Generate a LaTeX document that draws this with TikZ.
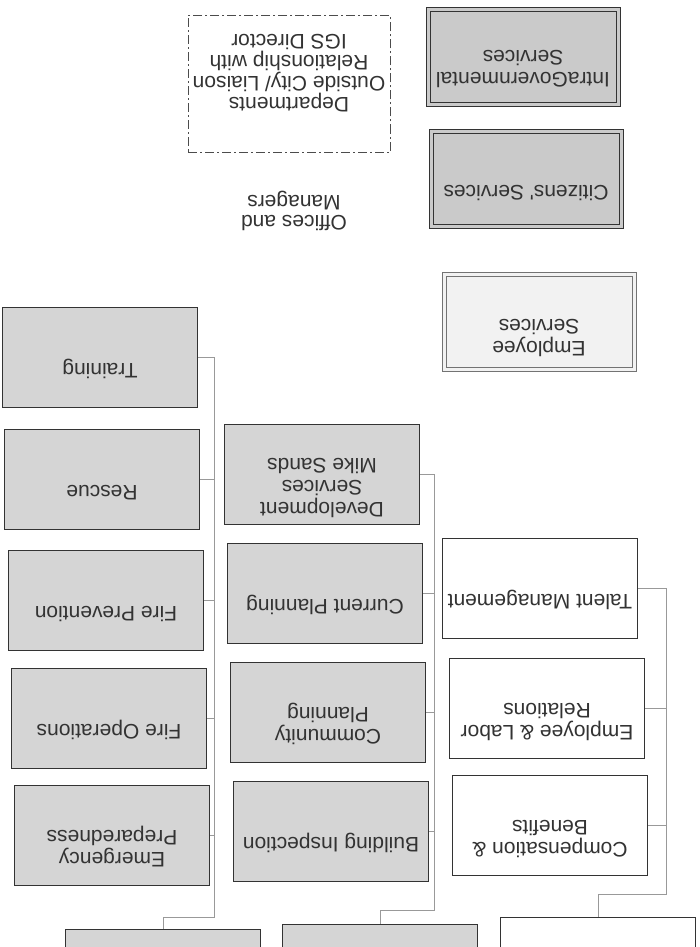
\documentclass[tikz,border=0pt]{standalone}
\usepackage{fontspec}
\usepackage{graphicx}
\newfontfamily\orgfont{Liberation Sans}
\definecolor{unitgray}{HTML}{D5D5D5}
\definecolor{officegray}{HTML}{CACACA}
\definecolor{empfill}{HTML}{F2F2F2}
\definecolor{linkgray}{HTML}{999999}
% upside-down text, lifted by #1 before the turn
\newcommand\flip[2][22pt]{\rotatebox[origin=c]{180}{\begin{tabular}{@{}c@{}}#2\\[#1]\end{tabular}}}
\tikzset{
  unit/.style={draw=black!80, line width=1pt, fill=unitgray, minimum width=195pt,
    minimum height=100pt, inner sep=0pt, text=black!80,
    font=\orgfont\fontsize{21}{22}\selectfont},
  plainunit/.style={unit, fill=white},
  office/.style={unit, fill=officegray, double=officegray, double distance=3pt,
    minimum width=190pt, minimum height=95pt},
  empoffice/.style={office, draw=black!55, fill=empfill, double=empfill},
  liaison/.style={draw=black!70, line width=0.8pt, dash pattern=on 9pt off 3pt on 2pt off 3pt,
    minimum width=202pt, minimum height=137pt, inner sep=0pt, text=black!80,
    font=\orgfont\fontsize{21}{19}\selectfont},
  note/.style={inner sep=0pt, text=black!80, font=\orgfont\fontsize{21}{20}\selectfont},
  link/.style={draw=linkgray, line width=0.6pt}
}
\begin{document}
\begin{tikzpicture}[x=1pt, y=-1pt]
    \useasboundingbox (0,0) rectangle (699,947);
    \clip (0,0) rectangle (699,947);

    % offices column
    \node [office] (igs) at (523,57) {\flip[18pt]{IntraGovernmental\\Services}};
    \node [office] (citizens) at (526,179) {\flip{Citizens' Services}};
    \node [empoffice] (empserv) at (539,322) {\flip[26pt]{Employee\\Services}};
    \node [liaison] (outside) at (289,84) {\flip[0pt]{\rule{0pt}{41pt}Departments\\Outside City/ Liaison\\Relationship with\\IGS Director}};
    \node [note] (offices) at (294,210) {\flip[0pt]{Offices and\\Managers}};

    % fire
    \node [unit] (train) at (100,357) {\flip{Training}};
    \node [unit] (rescue) at (102,479) {\flip{Rescue}};
    \node [unit] (firep) at (106,600) {\flip{Fire Prevention}};
    \node [unit] (fireo) at (109,718) {\flip{Fire Operations}};
    \node [unit] (emerg) at (112,835) {\flip{Emergency\\Preparedness}};
    \node [unit] (fire) at (163,979) {};

    % development
    \node [unit] (devserv) at (322,474) {\flip{Development\\Services\\Mike Sands}};
    \node [unit] (curplan) at (325,593) {\flip{Current Planning}};
    \node [unit] (complan) at (328,712) {\flip{Community\\Planning}};
    \node [unit] (building) at (331,831) {\flip{Building Inspection}};
    \node [unit] (dev) at (380,974) {};

    % human resources
    \node [plainunit] (talent) at (540,588) {\flip{Talent Management}};
    \node [plainunit] (labor) at (547,708) {\flip{Employee \& Labor\\Relations}};
    \node [plainunit] (benefits) at (550,825) {\flip{Compensation \&\\Benefits}};
    \node [plainunit] (hr) at (598,967) {};

    % connectors
    \coordinate (firebus) at (214,917);
    \coordinate (devbus) at (434,910);
    \coordinate (hrbus) at (666,894);
    \draw [link] (fire.north) |- (firebus) -- (firebus |- train.east);
    \foreach \u in {train,rescue,firep,fireo,emerg}
        \draw [link] (\u.east) -- (\u.east -| firebus);
    \draw [link] (dev.north) |- (devbus) -- (devbus |- devserv.east);
    \foreach \u in {devserv,curplan,complan,building}
        \draw [link] (\u.east) -- (\u.east -| devbus);
    \draw [link] (hr.north) |- (hrbus) -- (hrbus |- talent.east);
    \foreach \u in {talent,labor,benefits}
        \draw [link] (\u.east) -- (\u.east -| hrbus);
\end{tikzpicture}
\end{document}
